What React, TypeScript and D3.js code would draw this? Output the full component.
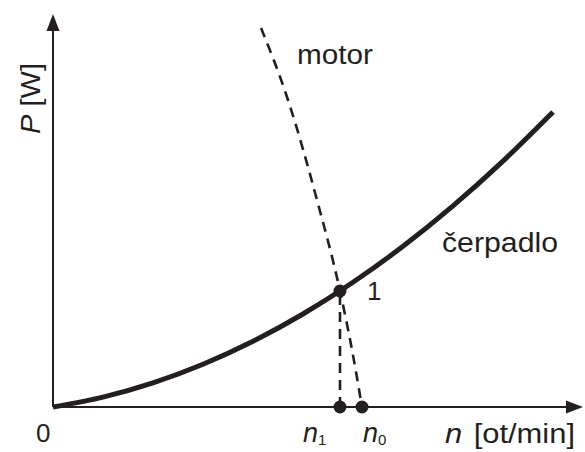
import React from "react";
import * as d3 from "d3";

const pumpN = [0, 9.43, 18.87, 28.3, 37.74, 47.17, 56.6, 66.04, 75.47, 84.9, 94.34];
const pumpP = [0, 2.52, 6.13, 10.87, 16.72, 23.66, 31.73, 40.89, 51.17, 62.57, 75.06];
const motorN = [39.25, 44.34, 49.81, 54.15, 56.42, 58.3];
const motorP = [96.44, 78.12, 52.67, 29.52, 14.5, 0];
const n1 = 54.15;
const p1 = 29.52;
const n0 = 58.3;

const W = 585;
const H = 452;
const INK = "#231f20";
const FONT = "'Liberation Sans', Arial, sans-serif";

export default function App() {
  const x = d3.scaleLinear().domain([0, 100]).range([53, 583]);
  const y = d3.scaleLinear().domain([0, 100]).range([407, 14]);

  const line = d3
    .line<[number, number]>()
    .x((d) => x(d[0]))
    .y((d) => y(d[1]))
    .curve(d3.curveMonotoneX);

  const pump = line(pumpN.map((n, i) => [n, pumpP[i]]) as [number, number][]) || "";
  const motor = line(motorN.map((n, i) => [n, motorP[i]]) as [number, number][]) || "";

  const x0 = x(0), y0 = y(0), xMax = x(100), yMax = y(100);

  return (
    <svg
      width={W}
      height={H}
      viewBox={`0 0 ${W} ${H}`}
      style={{ position: "absolute", left: 0, top: 0, background: "#fff" }}
      fontFamily={FONT}
    >
      {/* axes */}
      <line x1={x0} y1={y0} x2={x0} y2={yMax + 12} stroke={INK} strokeWidth={2} />
      <line x1={x0} y1={y0} x2={xMax - 12} y2={y0} stroke={INK} strokeWidth={2} />
      <path
        d={`M${x0},${yMax} L${x0 - 6.5},${yMax + 17} L${x0 + 6.5},${yMax + 17} Z`}
        fill={INK}
      />
      <path
        d={`M${xMax},${y0} L${xMax - 17},${y0 - 6.5} L${xMax - 17},${y0 + 6.5} Z`}
        fill={INK}
      />

      {/* motor curve (dashed) */}
      <path d={motor} fill="none" stroke={INK} strokeWidth={2.6} strokeDasharray="10,7" />
      {/* vertical dashed line */}
      <line
        x1={x(n1)}
        y1={y(p1)}
        x2={x(n1)}
        y2={y0}
        stroke={INK}
        strokeWidth={2.6}
        strokeDasharray="10,7"
        strokeDashoffset={-4}
      />
      {/* pump curve */}
      <path d={pump} fill="none" stroke={INK} strokeWidth={5} strokeLinecap="butt" />

      {/* points */}
      <circle cx={x(n1)} cy={y(p1)} r={6.5} fill={INK} />
      <circle cx={x(n1)} cy={y0} r={6.5} fill={INK} />
      <circle cx={x(n0)} cy={y0} r={6.5} fill={INK} />

      {/* labels */}
      <g fill={INK} fontSize={26}>
        <text x={297} y={64} fontSize={27} textLength={76} lengthAdjust="spacingAndGlyphs">motor</text>
        <text x={442} y={252} fontSize={27} textLength={116} lengthAdjust="spacingAndGlyphs">čerpadlo</text>
        <text x={367} y={300}>1</text>
        <text x={36} y={442}>0</text>
        <text x={x(n1) - 37} y={442} fontSize={27}>
          <tspan fontStyle="italic">n</tspan>
          <tspan fontSize={15} dy={3}>1</tspan>
        </text>
        <text x={x(n0) + 1} y={442} fontSize={27}>
          <tspan fontStyle="italic">n</tspan>
          <tspan fontSize={15} dy={3}>0</tspan>
        </text>
        <text x={445} y={443} fontSize={27} textLength={130} lengthAdjust="spacingAndGlyphs">
          <tspan fontStyle="italic">n</tspan>
          <tspan dx={10}>[ot/min]</tspan>
        </text>
        <text transform="translate(40,134) rotate(-90)" fontSize={28} textLength={71} lengthAdjust="spacingAndGlyphs">
          <tspan fontStyle="italic">P</tspan>
          <tspan> [W]</tspan>
        </text>
      </g>
    </svg>
  );
}
